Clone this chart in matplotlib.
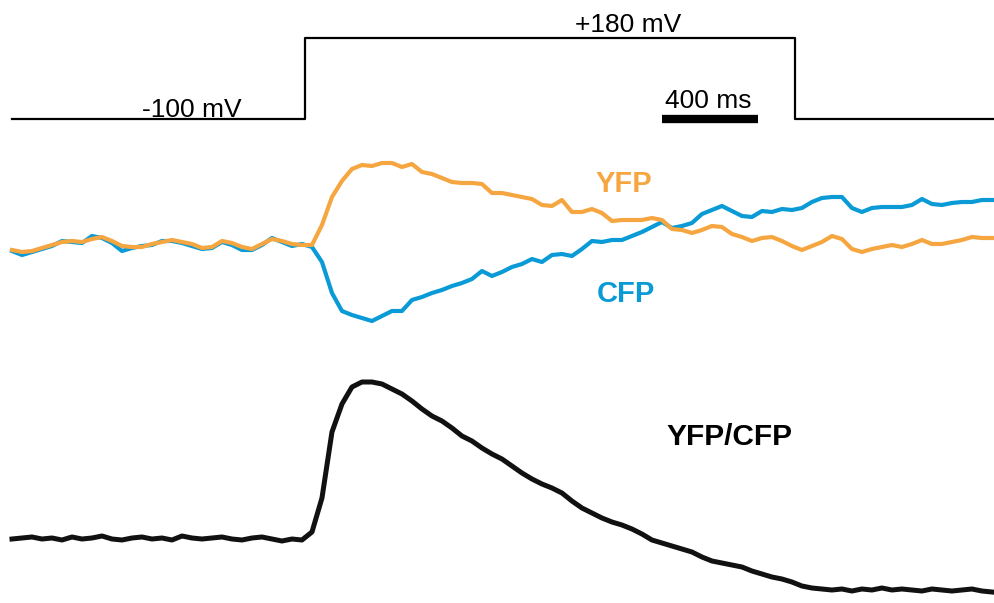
import numpy as np
import matplotlib
matplotlib.use('Agg')
import matplotlib.pyplot as plt

plt.rcParams['font.family'] = ['Liberation Sans', 'DejaVu Sans']

# Voltage protocol (ms, mV)
step_t = [0, 1221, 3262, 4092]
step_mv = [-100, 180, -100, -100]

dt = 1000 / 24
yfp_base = [-0.15, -0.25, -0.20, -0.05, 0.10, 0.25, 0.30, 0.25, 0.40, 0.50,
            0.30, 0.05, 0.00, 0.00, 0.15, 0.25, 0.35, 0.25, 0.15, -0.05,
            0.00, 0.30, 0.20, 0.00, -0.10, 0.15, 0.40, 0.30, 0.15, 0.10, 0.10]
cfp_base = [-0.20, -0.40, -0.25, -0.10, 0.05, 0.30, 0.25, 0.20, 0.55, 0.45,
            0.20, -0.20, -0.05, 0.05, 0.10, 0.30, 0.30, 0.20, 0.05, -0.10,
            -0.05, 0.25, 0.10, -0.15, -0.15, 0.10, 0.45, 0.25, 0.05, 0.15, 0.00]
yfp_step = [1.10, 2.50, 3.30, 3.90, 4.10, 4.05, 4.20, 4.20, 4.00, 4.15,
            3.75, 3.65, 3.45, 3.25, 3.20, 3.20, 3.15, 2.70, 2.70, 2.60,
            2.50, 2.40, 2.10, 2.05, 2.35, 1.75, 1.75, 1.90, 1.70, 1.30,
            1.35, 1.35, 1.35, 1.45, 1.35, 0.90, 0.85, 0.70, 0.85, 1.05,
            1.00, 0.65, 0.50, 0.30, 0.45, 0.50, 0.30, 0.05, -0.15, 0.05,
            0.25, 0.55, 0.40, -0.10, -0.25, -0.10, 0.00, 0.10, 0.00, 0.15,
            0.35, 0.15, 0.15, 0.25, 0.35, 0.50, 0.45, 0.45]
cfp_step = [-0.75, -2.30, -3.20, -3.40, -3.55, -3.70, -3.45, -3.20, -3.20, -2.65,
            -2.50, -2.30, -2.15, -1.95, -1.80, -1.60, -1.20, -1.45, -1.25, -1.00,
            -0.85, -0.60, -0.75, -0.40, -0.35, -0.45, -0.10, 0.30, 0.25, 0.35,
            0.35, 0.55, 0.75, 1.00, 1.25, 0.95, 1.05, 1.20, 1.65, 1.85,
            2.05, 1.80, 1.55, 1.50, 1.80, 1.75, 1.90, 1.85, 1.95, 2.25,
            2.45, 2.50, 2.50, 1.95, 1.75, 1.95, 2.00, 2.00, 2.00, 2.10,
            2.40, 2.15, 2.10, 2.20, 2.25, 2.25, 2.35, 2.35]
yfp = yfp_base + yfp_step
cfp = cfp_base + cfp_step

# YFP/CFP ratio, dR/R in %
ratio = [0.05, 0.10, 0.15, 0.05, 0.10, 0.00, 0.15, 0.05, 0.10, 0.20,
         0.05, 0.00, 0.10, 0.15, 0.05, 0.10, 0.00, 0.20, 0.10, 0.05,
         0.10, 0.15, 0.05, 0.00, 0.10, 0.15, 0.05, -0.05, 0.05, 0.00,
         0.40, 2.10, 5.40, 6.80, 7.65, 7.90, 7.90, 7.80, 7.55, 7.30,
         6.95, 6.55, 6.20, 5.95, 5.60, 5.20, 4.95, 4.60, 4.30, 4.05,
         3.70, 3.35, 3.05, 2.80, 2.60, 2.35, 1.95, 1.60, 1.35, 1.10,
         0.90, 0.75, 0.55, 0.30, 0.00, -0.15, -0.30, -0.45, -0.60, -0.85,
         -1.05, -1.15, -1.25, -1.35, -1.55, -1.70, -1.85, -1.95, -2.10, -2.30,
         -2.40, -2.45, -2.50, -2.45, -2.55, -2.45, -2.50, -2.40, -2.50, -2.45,
         -2.50, -2.55, -2.45, -2.50, -2.55, -2.50, -2.45, -2.55, -2.60]

t_fl = np.arange(len(yfp)) * dt
t_r = np.arange(len(ratio)) * dt

orange = '#F6A640'
blue = '#0A9BD6'

fig = plt.figure(figsize=(9.94, 6.03), dpi=100)
xlim = (-50, 4092)

# voltage panel
ax_v = fig.add_axes([0, (603 - 140) / 603, 1, 140 / 603])
ax_v.step(step_t, step_mv, where='post', color='black', lw=1.6)
ax_v.plot([2708, 3108], [-100, -100], color='black', lw=6, solid_capstyle='butt')
ax_v.text(750, -93, '-100 mV', fontsize=19, ha='center', va='baseline')
ax_v.text(2567, 200, '+180 mV', fontsize=19, ha='center', va='baseline')
ax_v.text(2900, -62, '400 ms', fontsize=19, ha='center', va='baseline')
ax_v.set_xlim(*xlim)
ax_v.set_ylim(-172.6, 311.4)

# YFP / CFP panel
ax_f = fig.add_axes([0, (603 - 350) / 603, 1, 210 / 603])
ax_f.plot(t_fl, cfp, color=blue, lw=3.0)
ax_f.plot(t_fl, yfp, color=orange, lw=3.0)
ax_f.text(2433, 2.75, 'YFP', color=orange, fontsize=21, fontweight='bold', va='baseline')
ax_f.text(2438, -2.75, 'CFP', color=blue, fontsize=21, fontweight='bold', va='baseline')
ax_f.set_xlim(*xlim)
ax_f.set_ylim(-5.15, 5.35)

# ratio panel
ax_r = fig.add_axes([0, 0, 1, 253 / 603])
ax_r.plot(t_r, ratio, color='#111111', lw=3.6)
ax_r.text(2729, 4.75, 'YFP/CFP', color='black', fontsize=21.5, fontweight='bold', va='baseline')
ax_r.set_xlim(*xlim)
ax_r.set_ylim(-3.15, 9.5)

for ax in (ax_v, ax_f, ax_r):
    ax.axis('off')

fig.savefig('out.png', dpi=100, facecolor='white')
